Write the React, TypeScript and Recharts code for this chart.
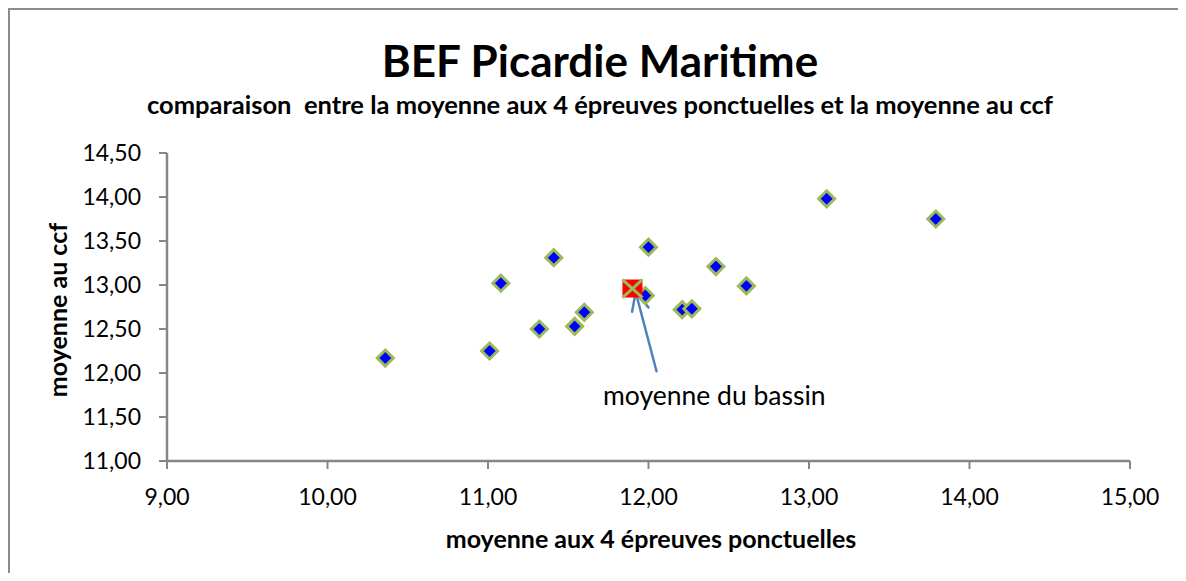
import React from "react";
import { ScatterChart, Scatter, XAxis, YAxis, ReferenceLine, ReferenceDot } from "recharts";

// moyennes par établissement
const schoolX = [10.36, 11.01, 11.08, 11.32, 11.41, 11.54, 11.6, 12.0, 11.98, 12.21, 12.27, 12.42, 12.61, 13.11, 13.79];
const schoolY = [12.17, 12.25, 13.02, 12.5, 13.31, 12.53, 12.69, 13.43, 12.88, 12.72, 12.73, 13.21, 12.99, 13.98, 13.75];

// moyenne du bassin
const basinX = [11.9];
const basinY = [12.96];

const xTicks = [9, 10, 11, 12, 13, 14, 15];
const yTicks = [11, 11.5, 12, 12.5, 13, 13.5, 14, 14.5];

// annotation arrow (tail -> tip) and label position, in data units
const arrowTail = { x: 12.05, y: 12.02 };
const arrowTip = { x: 11.92, y: 12.92 };
const noteAt = { x: 12.41, y: 11.64 };

const schoolData = schoolX.map((x, i) => ({ x, y: schoolY[i] }));
const basinData = basinX.map((x, i) => ({ x, y: basinY[i] }));

const GREEN = "#9BBB59";
const AXIS = "#868686";
const fmt = (v: number) => v.toFixed(2).replace(".", ",");

function Diamond(props: any) {
  const { cx, cy } = props;
  const r = 8;
  return (
    <path
      d={`M${cx},${cy - r} L${cx + r},${cy} L${cx},${cy + r} L${cx - r},${cy} Z`}
      fill="#0000FF"
      stroke={GREEN}
      strokeWidth={3}
    />
  );
}

function BasinMark(props: any) {
  const { cx, cy } = props;
  return (
    <g>
      <rect x={cx - 10} y={cy - 9} width={20} height={18} fill="#FF0000" />
      <line x1={cx - 10} y1={cy - 9} x2={cx + 10} y2={cy + 9} stroke={GREEN} strokeWidth={3} />
      <line x1={cx + 10} y1={cy - 9} x2={cx - 10} y2={cy + 9} stroke={GREEN} strokeWidth={3} />
    </g>
  );
}

function Arrow(props: any) {
  const { x1, y1, x2, y2 } = props;
  const dx = x1 - x2;
  const dy = y1 - y2;
  const len = Math.sqrt(dx * dx + dy * dy) || 1;
  const ux = dx / len;
  const uy = dy / len;
  const a = (25 * Math.PI) / 180;
  const b = 20;
  const l1x = x2 + b * (ux * Math.cos(a) - uy * Math.sin(a));
  const l1y = y2 + b * (ux * Math.sin(a) + uy * Math.cos(a));
  const l2x = x2 + b * (ux * Math.cos(-a) - uy * Math.sin(-a));
  const l2y = y2 + b * (ux * Math.sin(-a) + uy * Math.cos(-a));
  return (
    <g stroke="#4F81BD" strokeWidth={2.5} fill="none" strokeLinecap="round">
      <line x1={x1} y1={y1} x2={x2} y2={y2} />
      <polyline points={`${l1x},${l1y} ${x2},${y2} ${l2x},${l2y}`} />
    </g>
  );
}

function Note(props: any) {
  const { cx, cy } = props;
  return (
    <text x={cx} y={cy} textAnchor="middle" fontSize={26.5} fill="#000" fontFamily="Lato">
      moyenne du bassin
    </text>
  );
}

const boldText = { position: "absolute" as const, fontWeight: 700, whiteSpace: "nowrap" as const };

export default function App() {
  return (
    <div
      style={{
        position: "relative",
        width: 1176,
        height: 571,
        marginLeft: -1,
        marginTop: -1,
        marginBottom: -8,
        borderLeft: "3px solid #8c8c8c",
        borderTop: "3px solid #8c8c8c",
        background: "#fff",
        fontFamily: "Lato",
        overflow: "hidden",
      }}
    >
      <div style={{ ...boldText, left: 590, top: 28, transform: "translateX(-50%)", fontSize: 44, lineHeight: "44px" }}>
        BEF Picardie Maritime
      </div>
      <div style={{ ...boldText, left: 590, top: 82, transform: "translateX(-50%)", fontSize: 25.5, lineHeight: "25px" }}>
        comparaison&nbsp; entre la moyenne aux 4 épreuves ponctuelles et la moyenne au ccf
      </div>
      <div style={{ ...boldText, left: 641, top: 516, transform: "translateX(-50%)", fontSize: 25, lineHeight: "25px" }}>
        moyenne aux 4 épreuves ponctuelles
      </div>
      <div style={{ ...boldText, left: 47, top: 300, transform: "translate(-50%, -50%) rotate(-90deg)", fontSize: 25, lineHeight: "25px" }}>
        moyenne au ccf
      </div>
      <div style={{ position: "absolute", left: 0, top: 0 }}>
        <ScatterChart width={1176} height={560} margin={{ top: 143, right: 56, bottom: 0, left: 0 }}>
          <XAxis
            type="number"
            dataKey="x"
            domain={[9, 15]}
            ticks={xTicks}
            tickFormatter={fmt}
            height={109}
            tickSize={8}
            tickMargin={20}
            axisLine={{ stroke: AXIS, strokeWidth: 2.5 }}
            tickLine={{ stroke: AXIS, strokeWidth: 2 }}
            tick={{ fill: "#000", fontSize: 23, fontFamily: "Lato" }}
          />
          <YAxis
            type="number"
            dataKey="y"
            domain={[11, 14.5]}
            ticks={yTicks}
            tickFormatter={fmt}
            width={157}
            tickSize={8}
            tickMargin={18}
            axisLine={{ stroke: AXIS, strokeWidth: 2.5 }}
            tickLine={{ stroke: AXIS, strokeWidth: 2 }}
            tick={{ fill: "#000", fontSize: 23, fontFamily: "Lato" }}
          />
          <Scatter data={schoolData} shape={Diamond} isAnimationActive={false} />
          <Scatter data={basinData} shape={BasinMark} isAnimationActive={false} />
          <ReferenceLine segment={[arrowTail, arrowTip]} shape={Arrow} ifOverflow="visible" />
          <ReferenceDot x={noteAt.x} y={noteAt.y} r={0} shape={Note} ifOverflow="visible" />
        </ScatterChart>
      </div>
    </div>
  );
}
